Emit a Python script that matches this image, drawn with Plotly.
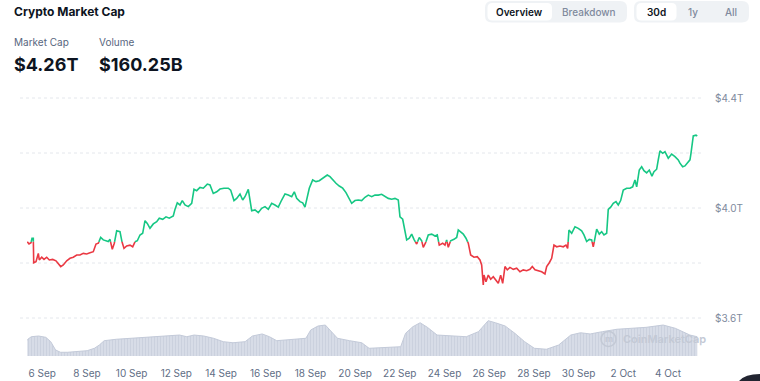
import pandas as pd
import plotly.graph_objects as go

# ---------------- data ----------------
start_date = pd.Timestamp("2025-09-06")

# market cap series: day offset from 6 Sep (days), value in trillions USD
mcap_day = [
    -0.667, -0.591, -0.501, -0.456, -0.398, -0.380, -0.277, -0.174, -0.130, -0.022,
    0.081, 0.201, 0.318, 0.470, 0.617, 0.720, 0.828, 0.944, 1.096, 1.244,
    1.391, 1.544, 1.691, 1.839, 1.991, 2.139, 2.286, 2.407, 2.510, 2.617,
    2.734, 2.854, 2.957, 3.033, 3.136, 3.226, 3.333, 3.481, 3.570, 3.660,
    3.781, 3.928, 4.049, 4.152, 4.255, 4.376, 4.496, 4.599, 4.702, 4.823,
    4.971, 5.123, 5.239, 5.391, 5.539, 5.686, 5.865, 5.941, 6.044, 6.165,
    6.268, 6.389, 6.536, 6.689, 6.791, 6.912, 7.060, 7.208, 7.387, 7.507,
    7.655, 7.807, 7.955, 8.134, 8.326, 8.433, 8.581, 8.702, 8.850, 8.970,
    9.073, 9.221, 9.297, 9.373, 9.521, 9.668, 9.820, 9.968, 10.116, 10.268,
    10.415, 10.563, 10.715, 10.863, 11.011, 11.163, 11.279, 11.386, 11.534, 11.655,
    11.758, 11.834, 11.950, 12.102, 12.250, 12.397, 12.576, 12.755, 12.876, 12.997,
    13.145, 13.292, 13.444, 13.592, 13.740, 13.847, 13.995, 14.142, 14.294, 14.442,
    14.590, 14.742, 14.889, 15.037, 15.189, 15.337, 15.485, 15.637, 15.784, 15.932,
    16.008, 16.129, 16.232, 16.308, 16.424, 16.532, 16.634, 16.755, 16.871, 16.979,
    17.050, 17.171, 17.274, 17.426, 17.574, 17.677, 17.766, 17.918, 18.021, 18.097,
    18.169, 18.276, 18.424, 18.545, 18.616, 18.724, 18.840, 18.961, 19.064, 19.171,
    19.319, 19.466, 19.587, 19.663, 19.735, 19.766, 19.856, 19.959, 20.066, 20.182,
    20.303, 20.406, 20.513, 20.603, 20.706, 20.809, 20.929, 21.077, 21.229, 21.377,
    21.524, 21.677, 21.824, 21.927, 22.048, 22.196, 22.348, 22.495, 22.571, 22.688,
    22.795, 22.898, 23.019, 23.166, 23.314, 23.435, 23.511, 23.569, 23.690, 23.838,
    23.985, 24.137, 24.240, 24.361, 24.477, 24.585, 24.656, 24.732, 24.809, 24.925,
    25.032, 25.135, 25.256, 25.327, 25.435, 25.551, 25.672, 25.775, 25.882, 25.999,
    26.150, 26.298, 26.419, 26.522, 26.598, 26.714, 26.822, 26.925, 27.045, 27.162,
    27.282, 27.372, 27.493, 27.564, 27.640, 27.761, 27.864, 28.012, 28.164, 28.312,
    28.459, 28.535, 28.656, 28.759, 28.862, 28.983, 29.028, 29.086, 29.131, 29.251,
    29.309,
]
mcap_t = [
    3.877, 3.869, 3.874, 3.890, 3.890, 3.801, 3.805, 3.835, 3.811, 3.821,
    3.813, 3.821, 3.811, 3.813, 3.808, 3.796, 3.787, 3.793, 3.808, 3.817,
    3.821, 3.829, 3.829, 3.835, 3.833, 3.837, 3.841, 3.869, 3.872, 3.893,
    3.884, 3.881, 3.878, 3.886, 3.850, 3.872, 3.917, 3.914, 3.877, 3.853,
    3.862, 3.865, 3.859, 3.877, 3.881, 3.902, 3.908, 3.954, 3.944, 3.926,
    3.942, 3.950, 3.963, 3.959, 3.968, 3.963, 3.971, 3.995, 4.019, 4.011,
    4.027, 4.011, 4.005, 4.017, 4.068, 4.063, 4.075, 4.072, 4.087, 4.084,
    4.053, 4.059, 4.069, 4.072, 4.072, 4.065, 4.027, 4.035, 4.051, 4.029,
    4.041, 4.068, 4.029, 3.990, 3.993, 3.983, 3.999, 4.005, 3.995, 4.017,
    4.011, 4.003, 4.029, 4.051, 4.047, 4.041, 4.059, 4.035, 4.023, 4.019,
    4.003, 4.029, 4.072, 4.102, 4.096, 4.099, 4.108, 4.120, 4.114, 4.102,
    4.090, 4.080, 4.072, 4.056, 4.032, 4.017, 4.027, 4.029, 4.027, 4.039,
    4.047, 4.041, 4.047, 4.047, 4.050, 4.044, 4.035, 4.032, 4.035, 4.029,
    3.968, 3.959, 3.914, 3.884, 3.890, 3.905, 3.886, 3.869, 3.893, 3.881,
    3.857, 3.877, 3.902, 3.905, 3.898, 3.902, 3.865, 3.872, 3.865, 3.884,
    3.857, 3.881, 3.886, 3.893, 3.920, 3.914, 3.905, 3.890, 3.872, 3.829,
    3.821, 3.823, 3.811, 3.793, 3.720, 3.756, 3.732, 3.756, 3.741, 3.750,
    3.738, 3.726, 3.756, 3.726, 3.787, 3.775, 3.784, 3.777, 3.781, 3.768,
    3.775, 3.772, 3.777, 3.787, 3.775, 3.772, 3.768, 3.760, 3.787, 3.801,
    3.817, 3.865, 3.859, 3.862, 3.859, 3.865, 3.853, 3.920, 3.908, 3.932,
    3.926, 3.917, 3.902, 3.878, 3.886, 3.884, 3.859, 3.890, 3.923, 3.905,
    3.914, 3.902, 3.908, 3.995, 4.003, 4.017, 4.023, 4.011, 4.027, 4.065,
    4.072, 4.072, 4.077, 4.102, 4.077, 4.138, 4.150, 4.136, 4.128, 4.138,
    4.116, 4.132, 4.141, 4.175, 4.208, 4.199, 4.205, 4.181, 4.196, 4.187,
    4.175, 4.163, 4.150, 4.153, 4.163, 4.175, 4.199, 4.229, 4.262, 4.265,
    4.262,
]

# volume series: day offset from 6 Sep, value in billions USD
vol_day = [
    -0.667, -0.642, -0.489, -0.163, 0.163, 0.381, 0.598, 0.816, 1.142, 1.577,
    2.012, 2.338, 2.555, 2.773, 3.317, 3.969, 4.621, 5.274, 5.926, 6.144,
    6.470, 6.796, 7.231, 7.666, 8.101, 8.536, 9.080, 9.406, 9.841, 10.167,
    10.493, 10.928, 11.472, 11.798, 12.016, 12.342, 12.668, 12.886, 13.212, 13.755,
    14.299, 14.626, 15.278, 16.039, 16.257, 16.583, 16.909, 17.235, 17.670, 18.323,
    18.975, 19.519, 19.954, 20.280, 20.715, 21.150, 21.585, 22.020, 22.563, 23.107,
    23.651, 24.086, 24.521, 25.065, 25.717, 26.369, 27.022, 27.783, 28.327, 28.979,
    29.309,
]
vol_b = [
    130, 139, 160, 166, 155, 119, 50, 31, 31, 36,
    44, 64, 91, 127, 139, 147, 155, 160, 166, 174,
    160, 174, 166, 147, 119, 110, 119, 166, 183, 160,
    127, 133, 139, 147, 216, 249, 257, 210, 147, 127,
    110, 64, 69, 77, 188, 243, 276, 238, 174, 166,
    160, 202, 293, 276, 249, 188, 119, 64, 56, 91,
    174, 193, 183, 202, 222, 230, 238, 257, 230, 174,
    160,
]

tick_days = [0, 2, 4, 6, 8, 10, 12, 14, 16, 18, 20, 22, 24, 26, 28]
tick_labels = ["6 Sep", "8 Sep", "10 Sep", "12 Sep", "14 Sep", "16 Sep", "18 Sep",
               "20 Sep", "22 Sep", "24 Sep", "26 Sep", "28 Sep", "30 Sep", "2 Oct", "4 Oct"]
y_tick_vals = [3.6, 3.8, 4.0, 4.2, 4.4]
y_tick_text = ["$3.6T", "", "$4.0T", "", "$4.4T"]

header_title = "Crypto Market Cap"
stat_labels = ["Market Cap", "Volume"]
stat_values = ["$4.26T", "$160.25B"]

# ---------------- helpers ----------------
W, H = 760, 381
GREEN = "#16c784"
RED = "#ea3943"


def to_dt(d):
    return start_date + pd.to_timedelta(d, unit="D")


def px(x):
    return x / W


def py(y):
    return 1 - y / H


# split the market-cap line into green (>= opening) and red (< opening) runs
base_val = mcap_t[0]
runs = []
cur = None
for i, (d, v) in enumerate(zip(mcap_day, mcap_t)):
    c = "g" if v >= base_val else "r"
    if cur is None:
        cur = [c, [d], [v]]
    elif c == cur[0]:
        cur[1].append(d)
        cur[2].append(v)
    else:
        d0, v0 = mcap_day[i - 1], mcap_t[i - 1]
        f = (base_val - v0) / (v - v0)
        dc = d0 + (d - d0) * f
        cur[1].append(dc)
        cur[2].append(base_val)
        runs.append(cur)
        cur = [c, [dc, d], [base_val, v]]
runs.append(cur)

fig = go.Figure()

# volume area (secondary axis)
fig.add_trace(go.Scatter(
    x=[to_dt(d) for d in vol_day], y=vol_b, yaxis="y2",
    mode="lines", line=dict(color="#c3cad9", width=1),
    fill="tozeroy", fillcolor="#d9dee8",
    fillpattern=dict(shape="|", fgcolor="#bcc4d4", bgcolor="#dadfe9", size=3, solidity=0.5),
    hoverinfo="skip", showlegend=False,
))

for color, ds, vs in runs:
    fig.add_trace(go.Scatter(
        x=[to_dt(d) for d in ds], y=vs, mode="lines",
        line=dict(color=GREEN if color == "g" else RED, width=1.6),
        showlegend=False, hoverinfo="skip",
    ))

# ---------------- layout ----------------
x_left_px, x_right_px = 27, 698
day_per_px = 1 / 22.35
x_range = [to_dt(-15.2 * day_per_px), to_dt((x_right_px - 42.2) * day_per_px)]

plot_top_px, plot_bot_px = 88, 358
y_range = [3.6 - 40 / 275, 4.4 + 10 / 275]
vol_per_px = 8.3
y2_range = [-2 * vol_per_px, 268 * vol_per_px]

shapes = []
# dotted gridlines
for v in y_tick_vals:
    shapes.append(dict(type="line", xref="paper", yref="y", x0=px(20), x1=px(703), y0=v, y1=v,
                       line=dict(color="#e4e7ec", width=1, dash="dot"), layer="below"))


def rrect(x0, y0, x1, y1, r, fill):
    X0, X1 = px(x0), px(x1)
    Y0, Y1 = py(y0), py(y1)
    rx, ry = r / W, r / H
    path = (f"M {X0+rx},{Y0} L {X1-rx},{Y0} Q {X1},{Y0} {X1},{Y0-ry} "
            f"L {X1},{Y1+ry} Q {X1},{Y1} {X1-rx},{Y1} L {X0+rx},{Y1} "
            f"Q {X0},{Y1} {X0},{Y1+ry} L {X0},{Y0-ry} Q {X0},{Y0} {X0+rx},{Y0} Z")
    return dict(type="path", xref="paper", yref="paper", path=path,
                fillcolor=fill, line=dict(width=0), layer="below")


shapes.append(rrect(485, 1, 627, 22.5, 7, "#eff2f5"))
shapes.append(rrect(487.5, 3, 552, 20.5, 5, "#ffffff"))
shapes.append(rrect(634, 1, 749, 22.5, 7, "#eff2f5"))
shapes.append(rrect(636.5, 3, 676.5, 20.5, 5, "#ffffff"))

# watermark logo circle
shapes.append(dict(type="circle", xref="paper", yref="paper",
                   x0=px(601), x1=px(616), y0=py(346.5), y1=py(331.5),
                   line=dict(color="#c3c9d5", width=1.6), fillcolor="rgba(0,0,0,0)"))
# dark round button peeking in at the bottom-right corner (visible cap only)
shapes.append(dict(type="path", xref="paper", yref="paper",
                   path=(f"M {px(739)},{py(381)} Q {px(745)},{py(374)} {px(760)},{py(374)} "
                         f"L {px(760)},{py(381)} Z"),
                   line=dict(width=0), fillcolor="#222531"))

annotations = []


def txt(text, x, y, size, color, weight=400, anchor="left"):
    annotations.append(dict(text=text, x=px(x), y=py(y), xref="paper", yref="paper",
                            xanchor=anchor, yanchor="middle", showarrow=False,
                            font=dict(family="Inter", size=size, color=color, weight=weight)))


txt(header_title, 12, 12, 12, "#0d1421", 700)
txt(stat_labels[0], 12, 42, 10, "#58667e")
txt(stat_labels[1], 97, 42, 10, "#58667e")
txt(stat_values[0], 12, 64.5, 18, "#0d1421", 700)
txt(stat_values[1], 97, 64.5, 18, "#0d1421", 700)

txt("Overview", 519.5, 11.5, 10, "#0d1421", 600, "center")
txt("Breakdown", 589, 11.5, 10, "#808a9d", 500, "center")
txt("30d", 656, 11.5, 10, "#0d1421", 600, "center")
txt("1y", 693, 11.5, 10, "#808a9d", 500, "center")
txt("All", 731, 11.5, 10, "#808a9d", 500, "center")

txt("m", 608.5, 338.5, 9, "#c3c9d5", 700, "center")
txt("CoinMarketCap", 621, 338.5, 11, "#c3c9d5", 600)

fig.update_layout(
    width=W, height=H,
    margin=dict(l=0, r=0, t=0, b=0),
    paper_bgcolor="white", plot_bgcolor="white",
    font=dict(family="Inter", size=10, color="#58667e"),
    showlegend=False,
    hovermode=False,
    xaxis=dict(
        domain=[px(x_left_px), px(x_right_px)], range=x_range, type="date",
        tickvals=[to_dt(d) for d in tick_days], ticktext=tick_labels,
        showgrid=False, zeroline=False, showline=False,
        ticks="", ticklabelstandoff=8,
        tickfont=dict(family="Inter", size=10, color="#616e85"),
        fixedrange=True,
    ),
    yaxis=dict(
        domain=[py(plot_bot_px), py(plot_top_px)], range=y_range,
        side="right", tickvals=y_tick_vals, ticktext=y_tick_text,
        showgrid=False, zeroline=False, showline=False,
        ticks="", ticklabelstandoff=16,
        tickfont=dict(family="Inter", size=10, color="#808a9d"),
        fixedrange=True,
    ),
    yaxis2=dict(
        domain=[py(plot_bot_px), py(plot_top_px)], range=y2_range,
        overlaying="y", side="left", visible=False, fixedrange=True,
    ),
    shapes=shapes,
    annotations=annotations,
)

fig.write_html(
    "out.html",
    config={"displayModeBar": False, "staticPlot": True},
    post_script="document.body.style.margin='0';document.body.style.overflow='hidden';",
)
